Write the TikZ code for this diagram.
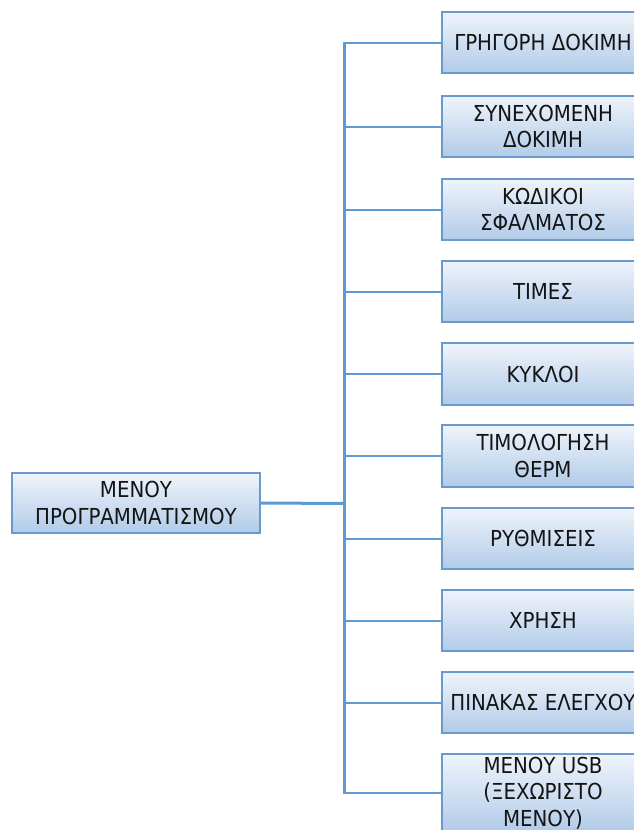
\documentclass[tikz,border=0pt]{standalone}
\usepackage{fontspec}
\setmainfont{DejaVu Sans Condensed}
\usetikzlibrary{positioning,calc}
\definecolor{tronco}{HTML}{5B9BD5}
\definecolor{borde}{HTML}{6A99CE}
\definecolor{claro}{HTML}{EFF4FB}
\definecolor{oscuro}{HTML}{B1CBE8}
\definecolor{letra}{HTML}{141414}
\tikzset{
  caja/.style={rectangle, draw=borde, line width=1.8pt, top color=claro, bottom color=oscuro,
               align=center, text=letra, font=\fontsize{22}{26.5}\selectfont,
               minimum width=202pt, minimum height=61.5pt, inner sep=2pt},
  raiz/.style={caja, minimum width=248pt, minimum height=60pt},
  rama/.style={draw=tronco, line width=2pt},
  eje/.style={draw=tronco, line width=3pt}
}
\begin{document}
\begin{tikzpicture}[x=1pt,y=-1pt]
\useasboundingbox (0,0) rectangle (634,830);
\clip (0,0) rectangle (634,830);
\fill[white] (0,0) rectangle (634,830);

\coordinate (hub) at (344,503.5);
\node[raiz] (menu) at (136,503) {ΜΕΝΟΥ\\ ΠΡΟΓΡΑΜΜΑΤΙΣΜΟΥ};
\node[caja] (b1) at (543,42.5) {ΓΡΗΓΟΡΗ ΔΟΚΙΜΗ};
\node[caja] (b2) at (543,126.5) {ΣΥΝΕΧΟΜΕΝΗ\\ ΔΟΚΙΜΗ};
\node[caja] (b3) at (543,209.5) {ΚΩΔΙΚΟΙ\\ ΣΦΑΛΜΑΤΟΣ};
\node[caja] (b4) at (543,291.5) {ΤΙΜΕΣ};
\node[caja] (b5) at (543,374) {ΚΥΚΛΟΙ};
\node[caja] (b6) at (543,456) {ΤΙΜΟΛΟΓΗΣΗ\\ ΘΕΡΜ};
\node[caja] (b7) at (543,538.5) {ΡΥΘΜΙΣΕΙΣ};
\node[caja] (b8) at (543,620.5) {ΧΡΗΣΗ};
\node[caja] (b9) at (543,702.5) {ΠΙΝΑΚΑΣ ΕΛΕΓΧΟΥ};
\node[caja,minimum height=78pt] (b10) at (543,793) {ΜΕΝΟΥ USB\\ (ΞΕΧΩΡΙΣΤΟ\\ ΜΕΝΟΥ)};

% ramas hacia cada caja
\foreach \i in {1,...,10}
  \draw[rama] (hub) |- (b\i.west);
\draw[eje] (b1.west -| hub) -- (b10.west -| hub);
\draw[eje] (menu.east) -- (hub);
\end{tikzpicture}
\end{document}
